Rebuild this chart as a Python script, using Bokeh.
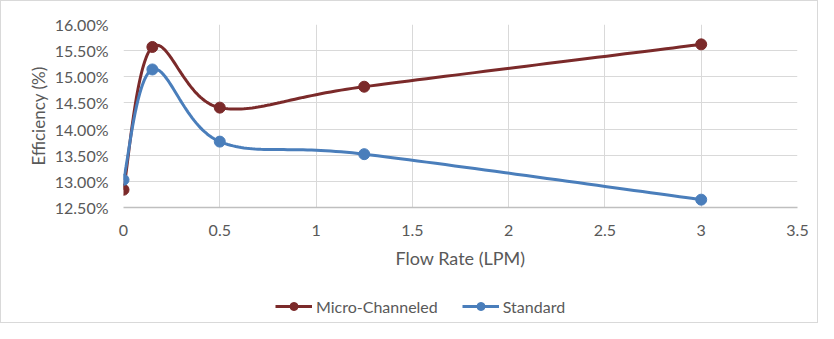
import numpy as np
from bokeh.plotting import figure
from bokeh.layouts import column
from bokeh.models import Range1d, FixedTicker, PrintfTickFormatter, Legend, LegendItem
from bokeh.embed import file_html
from bokeh.resources import INLINE

flow_rate = [0, 0.15, 0.5, 1.25, 3]
micro_channeled = [12.84, 15.57, 14.41, 14.81, 15.62]
standard = [13.03, 15.14, 13.76, 13.52, 12.65]
x_ticks = [0, 0.5, 1, 1.5, 2, 2.5, 3, 3.5]
y_ticks = [12.5, 13.0, 13.5, 14.0, 14.5, 15.0, 15.5, 16.0]
series_names = ["Micro-Channeled", "Standard"]

MICRO_COLOR = "#7b2a2a"
STD_COLOR = "#4a7ebb"
TEXT_COLOR = "#595959"
FONT = "Lato"


def smooth(xs, ys, n=40):
    # Catmull-Rom style cubic Bezier through the points (Excel-like smoothing)
    xs = np.asarray(xs, float)
    ys = np.asarray(ys, float)
    P = np.column_stack([xs, ys])
    out = []
    m = len(P)
    for i in range(m - 1):
        p0 = P[i - 1] if i > 0 else P[i]
        p1 = P[i]
        p2 = P[i + 1]
        p3 = P[i + 2] if i + 2 < m else P[i + 1]
        c1 = p1 + (p2 - p0) / 6.0
        c2 = p2 - (p3 - p1) / 6.0
        t = np.linspace(0, 1, n)[:, None]
        seg = ((1 - t) ** 3) * p1 + 3 * ((1 - t) ** 2) * t * c1 + 3 * (1 - t) * t ** 2 * c2 + t ** 3 * p2
        if i > 0:
            seg = seg[1:]
        out.append(seg)
    s = np.vstack(out)
    return s[:, 0], s[:, 1]


# ---------------- main chart ----------------
p = figure(width=816, height=275, output_backend="svg", toolbar_location=None,
           x_range=Range1d(0, 3.5), y_range=Range1d(12.5, 16.0))
p.min_border_left = 122
p.min_border_right = 20
p.min_border_top = 23
p.min_border_bottom = 69
p.outline_line_color = None
p.background_fill_color = "white"
p.border_fill_color = "white"

p.xaxis.ticker = FixedTicker(ticks=x_ticks)
p.xaxis.major_label_overrides = {t: (f"{t:g}") for t in x_ticks}
p.yaxis.ticker = FixedTicker(ticks=y_ticks)
p.yaxis.formatter = PrintfTickFormatter(format="%.2f%%")
for ax in (p.xaxis, p.yaxis):
    ax.major_tick_line_color = None
    ax.minor_tick_line_color = None
    ax.major_label_text_font = FONT
    ax.major_label_text_color = TEXT_COLOR
    ax.axis_label_text_font = FONT
    ax.axis_label_text_font_style = "normal"
    ax.axis_label_text_color = TEXT_COLOR
p.xaxis.major_label_text_font_size = "16px"
p.yaxis.major_label_text_font_size = "16px"
p.xaxis.axis_label_text_font_size = "18px"
p.yaxis.axis_label_text_font_size = "17px"
p.xaxis.axis_label = "Flow Rate (LPM)"
p.yaxis.axis_label = "Efficiency (%)"
p.xaxis.axis_line_color = "#bfbfbf"
p.xaxis.axis_line_width = 1.5
p.yaxis.axis_line_color = None
p.xaxis.major_label_standoff = 11
p.yaxis.major_label_standoff = 9
p.xaxis.axis_label_standoff = 8
p.yaxis.axis_label_standoff = 3

p.xgrid.grid_line_color = "#d9d9d9"
p.ygrid.grid_line_color = "#d9d9d9"
p.xgrid.ticker = FixedTicker(ticks=x_ticks)
p.ygrid.ticker = FixedTicker(ticks=y_ticks)

mx, my = smooth(flow_rate, micro_channeled)
sx, sy = smooth(flow_rate, standard)

p.line(mx, my, line_color=MICRO_COLOR, line_width=3)
p.scatter(flow_rate, micro_channeled, size=11, fill_color=MICRO_COLOR, line_color=MICRO_COLOR)
p.line(sx, sy, line_color=STD_COLOR, line_width=3)
p.scatter(flow_rate, standard, size=11, fill_color=STD_COLOR, line_color=STD_COLOR)

# ---------------- legend strip ----------------
# the strip's ranges keep its copies of the series out of view; only the legend shows
q = figure(width=816, height=46, output_backend="svg", toolbar_location=None,
           x_range=Range1d(0, 1), y_range=Range1d(0, 1),
           x_axis_location=None, y_axis_location=None)
q.min_border_left = 0
q.min_border_right = 0
q.min_border_top = 0
q.min_border_bottom = 0
q.outline_line_color = None
q.xgrid.visible = False
q.ygrid.visible = False
q.border_fill_color = "white"
q.background_fill_color = "white"

items = []
for name, vals, col in zip(series_names, [micro_channeled, standard], [MICRO_COLOR, STD_COLOR]):
    lr = q.line(x=flow_rate, y=vals, line_color=col, line_width=3)
    sr = q.scatter(x=flow_rate, y=vals, size=11, fill_color=col, line_color=col)
    items.append(LegendItem(label=name, renderers=[lr, sr]))

legend = Legend(items=items, orientation="horizontal", location=(152, 6))
legend.label_text_font = FONT
legend.label_text_font_size = "16px"
legend.label_text_color = TEXT_COLOR
legend.border_line_color = None
legend.background_fill_alpha = 0
legend.glyph_width = 37
legend.label_standoff = 4
legend.spacing = 24
legend.margin = 0
legend.padding = 0
q.add_layout(legend, "center")

layout = column(p, q, spacing=0, styles={"border": "1px solid #d9d9d9"})

open("out.html", "w").write(file_html(layout, INLINE))
